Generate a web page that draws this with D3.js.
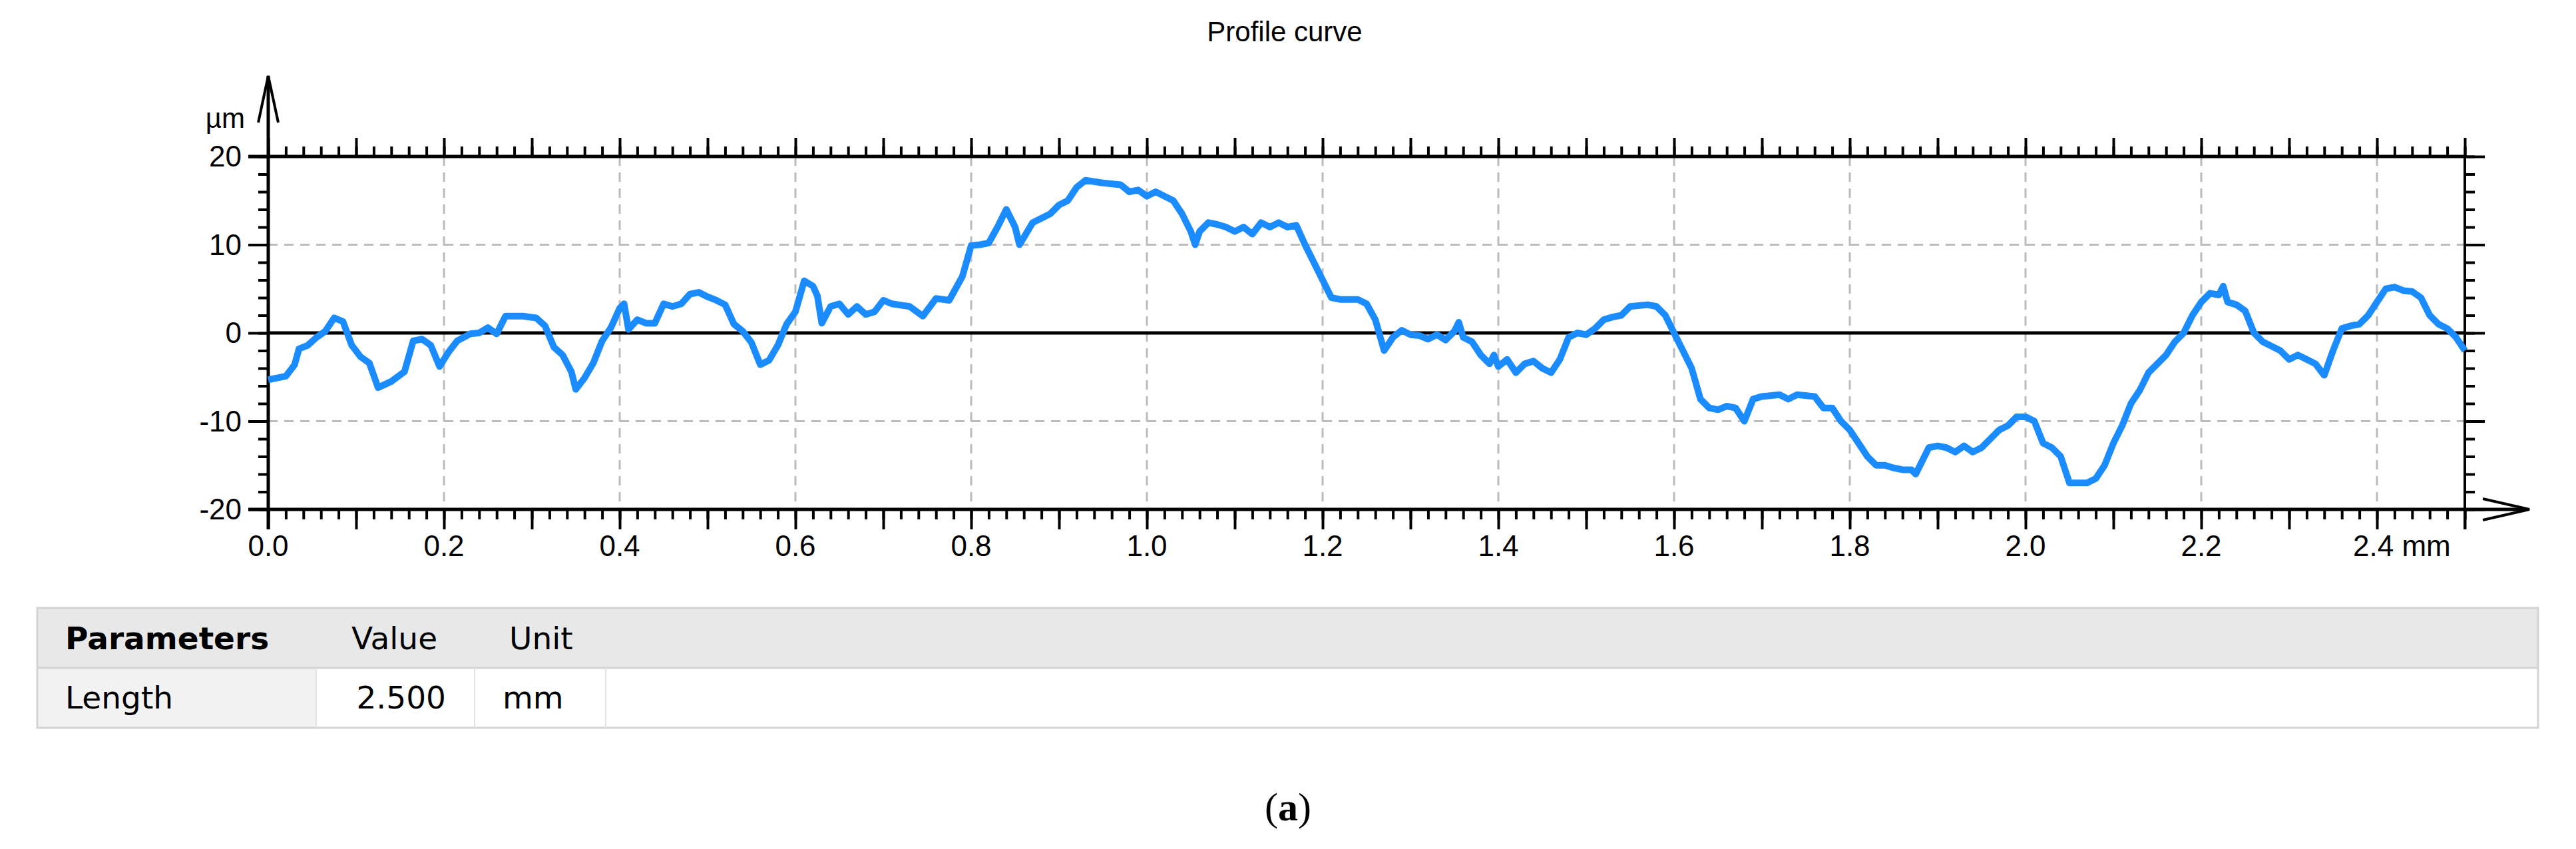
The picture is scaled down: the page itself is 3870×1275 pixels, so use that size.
<!DOCTYPE html>
<html><head><meta charset="utf-8">
<script src="https://cdn.jsdelivr.net/npm/d3@7"></script>
<style>body{margin:0;background:#fff}</style></head>
<body><svg id="c" width="3870" height="1275"></svg>
<script>
const xPos = [0,0.01,0.02,0.03,0.035,0.045,0.055,0.065,0.075,0.085,0.095,0.105,0.115,0.125,0.14,0.155,0.165,0.175,0.185,0.195,0.205,0.215,0.23,0.24,0.25,0.26,0.27,0.29,0.305,0.315,0.325,0.335,0.345,0.35,0.36,0.37,0.38,0.39,0.4,0.405,0.41,0.42,0.43,0.44,0.45,0.46,0.47,0.48,0.49,0.5,0.51,0.52,0.53,0.54,0.55,0.56,0.57,0.58,0.59,0.6,0.61,0.62,0.625,0.63,0.64,0.65,0.66,0.67,0.68,0.69,0.7,0.71,0.73,0.745,0.76,0.775,0.79,0.8,
0.81,0.82,0.83,0.84,0.85,0.855,0.87,0.88,0.89,0.9,0.91,0.92,0.93,0.95,0.97,0.98,0.99,1.0,1.01,1.02,1.03,1.04,1.05,1.055,1.06,1.07,1.08,1.09,1.1,1.11,1.12,1.13,1.14,1.15,1.16,1.17,1.18,1.19,1.2,1.21,1.22,1.24,1.25,1.26,1.27,1.28,1.29,1.3,1.31,1.32,1.33,1.34,1.35,1.355,1.36,1.37,1.38,1.39,1.395,1.4,1.41,1.42,1.43,1.44,1.45,1.46,1.47,1.48,1.49,1.5,1.51,1.52,1.53,1.54,1.55,1.57,1.58,1.59,1.6,1.61,1.62,1.63,1.64,1.65,1.66,1.67,1.68,1.69,1.7,1.72,1.73,1.74,1.76,1.77,1.78,1.79,1.8,1.81,1.82,1.83,1.84,1.85,1.86,1.87,1.875,1.88,1.89,1.9,1.91,1.92,1.93,1.94,1.95,1.96,1.97,1.98,1.99,2.0,2.01,2.02,2.03,2.04,2.05,2.06,2.07,2.08,2.09,2.1,2.11,2.12,2.13,2.14,2.15,2.16,2.17,2.18,2.19,2.2,2.21,2.22,2.225,2.23,2.24,2.25,2.26,2.27,2.28,2.29,2.3,2.31,2.32,2.33,2.34,2.35,2.36,2.37,2.38,2.39,2.4,2.41,2.42,2.43,2.44,2.45,2.46,2.47,2.48,2.49,2.5];
const zVal = [-5.3,-5.1,-4.9,-3.6,-1.8,-1.4,-0.5,0.2,1.7,1.3,-1.4,-2.7,-3.4,-6.2,-5.5,-4.4,-0.9,-0.7,-1.4,-3.8,-2.2,-0.9,-0.1,0.0,0.6,-0.1,1.9,1.9,1.7,0.8,-1.6,-2.5,-4.4,-6.4,-5.1,-3.4,-0.9,0.6,2.8,3.3,0.4,1.5,1.1,1.1,3.3,3.0,3.3,4.4,4.6,4.1,3.7,3.2,1.0,0.2,-1.1,-3.6,-3.1,-1.4,1.0,2.4,5.9,5.3,4.2,1.1,3.0,3.3,2.1,3.0,2.1,2.4,3.7,3.3,3.0,1.9,3.9,3.7,6.4,9.9,
10,10.2,12,14,12,10,12.5,13,13.5,14.5,15,16.5,17.3,17,16.8,16,16.2,15.5,16,15.5,15,13.5,11.5,10,11.5,12.5,12.3,12,11.5,12,11.2,12.5,12,12.5,12,12.2,10,8,6,4,3.8,3.8,3.3,1.5,-2,-0.5,0.3,-0.2,-0.3,-0.7,-0.2,-0.8,0.2,1.2,-0.5,-1,-2.5,-3.5,-2.5,-3.8,-3,-4.5,-3.5,-3.2,-4,-4.5,-3,-0.5,0,-0.2,0.5,1.5,1.8,2,3,3.2,3,2,0,-2,-4,-7.5,-8.5,-8.7,-8.3,-8.5,-10,-7.5,-7.2,-7,-7.5,-7,-7.2,-8.5,-8.5,-10,-11,-12.5,-14,-15,-15,-15.3,-15.5,-15.5,-16,-15,-13,-12.8,-13,-13.5,-12.8,-13.5,-13,-12,-11,-10.5,-9.5,-9.5,-10,-12.5,-13,-14,-17,-17,-17,-16.5,-15,-12.5,-10.5,-8,-6.5,-4.5,-3.5,-2.5,-1,0,2,3.5,4.5,4.3,5.3,3.5,3.2,2.5,0,-1,-1.5,-2,-3,-2.5,-3,-3.5,-4.8,-2,0.5,0.8,1,2,3.5,5,5.2,4.8,4.7,4,2,1,0.5,-0.5,-2];
const xTickLabels = ["0.0","0.2","0.4","0.6","0.8","1.0","1.2","1.4","1.6","1.8","2.0","2.2","2.4 mm"];
const yTickLabels = ["-20","-10","0","10","20"];
const tableHeader = ["Parameters","Value","Unit"];
const tableRow = ["Length","2.500","mm"];

const svg = d3.select("#c");
const L=403,R=3703,T=235,B=765;
const x = d3.scaleLinear().domain([0,2.5]).range([L,R]);
const y = d3.scaleLinear().domain([-20,20]).range([B,T]);
const F="Liberation Sans, Arial, sans-serif";

svg.append("text").attr("x",1930).attr("y",62).attr("text-anchor","middle").attr("font-family",F).attr("font-size",42).text("Profile curve");

const g=svg.append("g");
d3.range(0.2,2.5,0.2).forEach(v=>g.append("line").attr("x1",x(v)).attr("x2",x(v)).attr("y1",T).attr("y2",B).attr("stroke","#bbb").attr("stroke-width",3).attr("stroke-dasharray","14,10"));
[-10,10].forEach(v=>g.append("line").attr("x1",L).attr("x2",R).attr("y1",y(v)).attr("y2",y(v)).attr("stroke","#bbb").attr("stroke-width",3).attr("stroke-dasharray","14,10"));
g.append("line").attr("x1",L).attr("x2",R).attr("y1",y(0)).attr("y2",y(0)).attr("stroke","#000").attr("stroke-width",5);

const minorX=d3.range(0,2.501,0.02);
const majX=d3.range(0,2.501,0.1);
function style(s){s.select(".domain").remove();s.selectAll("line").attr("stroke","#000").attr("stroke-width",4);}
svg.append("g").attr("transform",`translate(0,${T})`).call(d3.axisTop(x).tickValues(minorX).tickFormat("").tickSize(15).tickSizeOuter(0)).call(style);
svg.append("g").attr("transform",`translate(0,${B})`).call(d3.axisBottom(x).tickValues(minorX).tickFormat("").tickSize(15).tickSizeOuter(0)).call(style);
svg.append("g").attr("transform",`translate(0,${T})`).call(d3.axisTop(x).tickValues(majX).tickFormat("").tickSize(28).tickSizeOuter(0)).call(style);
svg.append("g").attr("transform",`translate(0,${B})`).call(d3.axisBottom(x).tickValues(majX).tickFormat("").tickSize(30).tickSizeOuter(0)).call(style);
const minorY=d3.range(-20,20.01,2);
svg.append("g").attr("transform",`translate(${L},0)`).call(d3.axisLeft(y).tickValues(minorY).tickFormat("").tickSize(15).tickSizeOuter(0)).call(style);
svg.append("g").attr("transform",`translate(${L},0)`).call(d3.axisLeft(y).tickValues([-20,-10,0,10,20]).tickFormat("").tickSize(30).tickSizeOuter(0)).call(style);
svg.append("g").attr("transform",`translate(${R},0)`).call(d3.axisRight(y).tickValues(minorY).tickFormat("").tickSize(15).tickSizeOuter(0)).call(style);
svg.append("g").attr("transform",`translate(${R},0)`).call(d3.axisRight(y).tickValues([-20,-10,0,10,20]).tickFormat("").tickSize(30).tickSizeOuter(0)).call(style);

svg.append("line").attr("x1",L-30).attr("x2",R).attr("y1",T).attr("y2",T).attr("stroke","#000").attr("stroke-width",5);
svg.append("line").attr("x1",R).attr("x2",R).attr("y1",T).attr("y2",B+30).attr("stroke","#000").attr("stroke-width",4);
svg.append("line").attr("x1",L-30).attr("x2",3795).attr("y1",B).attr("y2",B).attr("stroke","#000").attr("stroke-width",5);
svg.append("line").attr("x1",L).attr("x2",L).attr("y1",B+30).attr("y2",114).attr("stroke","#000").attr("stroke-width",5);
svg.append("path").attr("d",`M${L-15},184 L${L},114 L${L+15},184`).attr("fill","none").attr("stroke","#000").attr("stroke-width",4);
svg.append("path").attr("d",`M3730,${B-16} L3800,${B} L3730,${B+16}`).attr("fill","none").attr("stroke","#000").attr("stroke-width",4);

xTickLabels.forEach((t,i)=>svg.append("text").attr("x",x(i*0.2)).attr("y",835).attr("text-anchor",i==12?"start":"middle").attr("dx",i==12?-36:0).attr("font-family",F).attr("font-size",44).text(t));
yTickLabels.forEach((t,i)=>svg.append("text").attr("x",363).attr("y",y(-20+i*10)+15).attr("text-anchor","end").attr("font-family",F).attr("font-size",44).text(t));
svg.append("text").attr("x",368).attr("y",192).attr("text-anchor","end").attr("font-family",F).attr("font-size",42).text("µm");

const pts=xPos.map((v,i)=>[v,zVal[i]]);
svg.append("path").datum(pts).attr("d",d3.line().x(d=>x(d[0])).y(d=>y(d[1]))).attr("fill","none").attr("stroke","#1a8cff").attr("stroke-width",10).attr("stroke-linejoin","round");

const TF="DejaVu Sans, Verdana, sans-serif";
const tL=56,tR=3813,t0=913,t1=1003,t2=1093,cols=[56,475,713,910];
svg.append("rect").attr("x",tL).attr("y",t0).attr("width",tR-tL).attr("height",t1-t0).attr("fill","#e8e8e8");
svg.append("rect").attr("x",tL).attr("y",t1).attr("width",cols[1]-tL).attr("height",t2-t1).attr("fill","#f2f2f2");
svg.append("rect").attr("x",tL).attr("y",t0).attr("width",tR-tL).attr("height",t2-t0).attr("fill","none").attr("stroke","#d4d4d4").attr("stroke-width",3);
svg.append("line").attr("x1",tL).attr("x2",tR).attr("y1",t1).attr("y2",t1).attr("stroke","#d4d4d4").attr("stroke-width",3);
cols.slice(1).forEach(c=>svg.append("line").attr("x1",c).attr("x2",c).attr("y1",t1).attr("y2",t2).attr("stroke","#e2e2e2").attr("stroke-width",2));
const fs=47;
svg.append("text").attr("x",98).attr("y",975).attr("font-family",TF).attr("font-weight","bold").attr("font-size",fs).text(tableHeader[0]);
svg.append("text").attr("x",528).attr("y",975).attr("font-family",TF).attr("font-size",fs).text(tableHeader[1]);
svg.append("text").attr("x",765).attr("y",975).attr("font-family",TF).attr("font-size",fs).text(tableHeader[2]);
svg.append("text").attr("x",98).attr("y",1064).attr("font-family",TF).attr("font-size",fs).text(tableRow[0]);
svg.append("text").attr("x",670).attr("y",1064).attr("text-anchor","end").attr("font-family",TF).attr("font-size",fs).text(tableRow[1]);
svg.append("text").attr("x",755).attr("y",1064).attr("font-family",TF).attr("font-size",fs).text(tableRow[2]);

svg.append("text").attr("x",1935).attr("y",1232).attr("text-anchor","middle").attr("font-family","Liberation Serif, serif").attr("font-size",60).html('(<tspan font-weight="bold">a</tspan>)');
</script></body></html>
